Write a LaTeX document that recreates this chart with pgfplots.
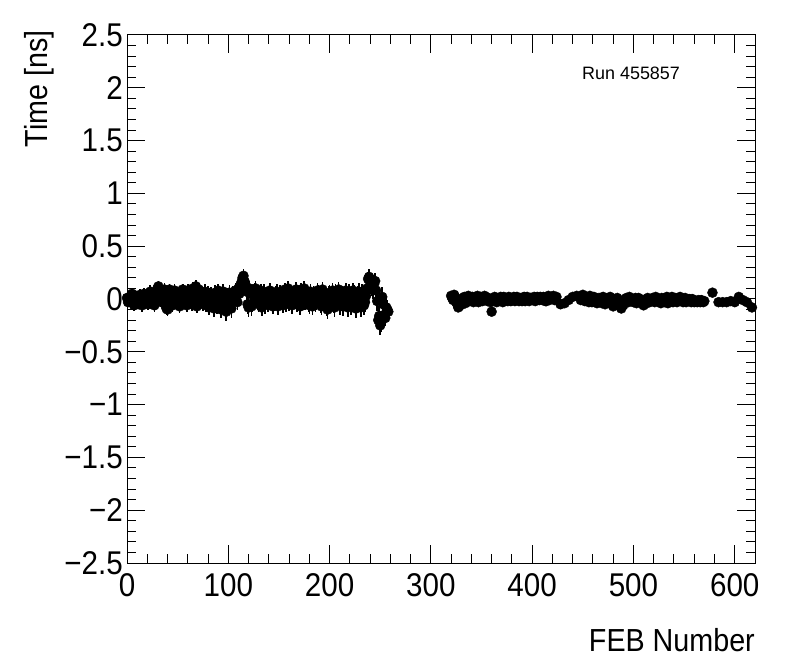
\documentclass[border=0pt]{standalone}
\usepackage{fontspec}
\setmainfont{Liberation Sans}
\newfontfamily\rootfont{Liberation Sans}[FakeStretch=0.9]
\usepackage{pgfplots}
\usepackage{pgfplotstable}
\pgfplotsset{compat=1.18}
\pgfplotstableread{
x y e
0 0.01 0.04
2 -0.02 0.05
4 0.03 0.04
6 -0.04 0.05
8 0.00 0.04
10 0.02 0.05
12 -0.05 0.04
14 0.01 0.05
16 -0.03 0.06
18 0.03 0.05
20 -0.02 0.05
22 0.04 0.06
24 -0.04 0.05
26 0.02 0.05
28 0.06 0.06
30 0.10 0.05
32 0.05 0.06
34 -0.03 0.05
36 0.07 0.05
38 -0.06 0.06
40 -0.10 0.06
42 0.09 0.05
44 0.02 0.06
46 -0.04 0.05
48 0.05 0.06
50 0.00 0.05
52 -0.07 0.06
54 0.03 0.05
56 0.06 0.06
58 -0.02 0.05
60 0.08 0.06
62 0.02 0.05
64 -0.05 0.06
66 0.04 0.05
68 0.12 0.06
70 0.07 0.05
72 -0.03 0.06
74 0.05 0.05
76 0.00 0.07
78 -0.06 0.06
80 0.06 0.06
82 0.03 0.07
84 -0.04 0.06
86 -0.09 0.08
88 0.02 0.07
90 0.08 0.06
92 -0.02 0.07
94 0.05 0.06
96 -0.07 0.08
98 -0.12 0.09
100 0.03 0.07
102 -0.04 0.08
104 0.06 0.06
106 -0.02 0.07
108 0.04 0.06
110 0.10 0.07
112 0.13 0.06
114 0.20 0.06
116 0.17 0.07
118 0.07 0.08
120 -0.08 0.09
122 0.05 0.07
124 -0.04 0.08
126 0.09 0.06
128 0.02 0.07
130 -0.05 0.07
132 0.08 0.06
134 0.01 0.07
136 -0.06 0.08
138 0.04 0.06
140 -0.02 0.07
142 0.06 0.06
144 -0.07 0.07
146 0.02 0.06
148 0.07 0.07
150 -0.03 0.06
152 0.04 0.07
154 -0.06 0.07
156 0.09 0.06
158 0.03 0.07
160 -0.04 0.07
162 0.05 0.06
164 -0.01 0.07
166 0.07 0.06
168 -0.05 0.07
170 0.02 0.07
172 0.09 0.06
174 0.04 0.07
176 -0.03 0.07
178 0.06 0.06
180 -0.06 0.08
182 0.01 0.07
184 0.05 0.07
186 -0.04 0.08
188 0.08 0.07
190 0.02 0.07
192 -0.07 0.08
194 0.04 0.07
196 -0.02 0.08
198 -0.10 0.09
200 0.06 0.07
202 0.01 0.08
204 -0.05 0.08
206 0.07 0.07
208 0.03 0.08
210 -0.06 0.09
212 0.05 0.07
214 -0.02 0.08
216 0.08 0.07
218 -0.08 0.09
220 0.02 0.08
222 -0.04 0.08
224 0.06 0.07
226 -0.09 0.09
228 0.04 0.08
230 -0.03 0.08
232 0.07 0.07
234 -0.06 0.09
236 0.03 0.08
238 0.19 0.07
240 0.16 0.08
242 0.11 0.08
244 0.14 0.09
246 0.08 0.09
248 -0.20 0.08
250 -0.25 0.09
252 0.02 0.09
254 -0.15 0.08
256 -0.08 0.09
258 -0.12 0.08
1 -0.03 0.05
3 0.02 0.05
5 0.05 0.05
7 -0.06 0.05
9 0.03 0.05
11 -0.02 0.05
13 0.04 0.05
15 -0.06 0.06
17 0.05 0.05
19 0.00 0.06
21 -0.05 0.05
23 0.07 0.06
25 0.01 0.05
27 -0.06 0.06
29 0.03 0.06
31 0.12 0.05
33 -0.02 0.06
35 0.04 0.05
37 0.09 0.06
39 -0.09 0.06
41 0.01 0.06
43 0.06 0.05
45 -0.06 0.06
47 0.08 0.06
49 -0.03 0.05
51 0.04 0.06
53 -0.05 0.06
55 0.09 0.05
57 0.01 0.06
59 -0.06 0.06
61 0.05 0.06
63 -0.02 0.05
65 0.10 0.06
67 0.03 0.06
69 -0.07 0.06
71 0.09 0.06
73 0.02 0.05
75 -0.05 0.06
77 0.07 0.07
79 0.01 0.06
81 -0.08 0.07
83 0.05 0.06
85 -0.01 0.07
87 0.06 0.07
89 -0.06 0.08
91 0.03 0.07
93 -0.10 0.08
95 0.07 0.07
97 0.01 0.08
99 -0.05 0.08
101 0.06 0.07
103 -0.09 0.09
105 0.02 0.07
107 0.08 0.07
109 -0.03 0.07
111 0.05 0.07
113 0.16 0.07
115 0.22 0.06
117 0.12 0.07
119 -0.05 0.09
121 0.10 0.07
123 -0.07 0.09
125 0.03 0.07
127 0.10 0.07
129 -0.03 0.07
131 0.05 0.07
133 -0.08 0.08
135 0.07 0.07
137 0.00 0.07
139 -0.05 0.07
141 0.08 0.07
143 0.02 0.07
145 -0.04 0.07
147 0.05 0.07
149 -0.07 0.08
151 0.06 0.07
153 0.00 0.07
155 0.03 0.07
157 -0.05 0.07
159 0.10 0.07
161 0.01 0.07
163 -0.06 0.08
165 0.04 0.07
167 0.09 0.07
169 -0.02 0.07
171 -0.07 0.08
173 0.05 0.07
175 0.10 0.07
177 0.00 0.07
179 -0.04 0.08
181 0.07 0.07
183 -0.07 0.08
185 0.03 0.07
187 -0.02 0.08
189 0.06 0.07
191 -0.05 0.08
193 0.09 0.07
195 0.00 0.08
197 -0.07 0.09
199 0.04 0.08
201 -0.03 0.08
203 0.08 0.07
205 -0.08 0.09
207 0.02 0.08
209 0.09 0.07
211 -0.02 0.08
213 -0.07 0.09
215 0.04 0.08
217 0.00 0.08
219 0.06 0.08
221 -0.06 0.09
223 0.08 0.07
225 0.00 0.08
227 -0.04 0.09
229 0.07 0.08
231 -0.08 0.09
233 0.02 0.08
235 -0.03 0.09
237 0.10 0.08
239 0.21 0.07
241 0.13 0.08
243 0.09 0.09
245 0.17 0.08
247 -0.02 0.09
249 -0.16 0.09
251 -0.22 0.09
253 -0.05 0.09
255 -0.18 0.08
257 -0.10 0.09
}\firstpart
\pgfplotstableread{
x y e
320 0.03 0.01
322 -0.01 0.01
324 0.02 0.01
326 -0.05 0.01
328 -0.07 0.01
330 -0.03 0.01
332 0.01 0.01
334 -0.04 0.01
336 0.02 0.01
338 -0.02 0.01
340 0.01 0.01
342 -0.03 0.01
344 0.00 0.01
346 0.03 0.01
348 -0.02 0.01
350 0.01 0.01
352 -0.01 0.01
354 0.02 0.01
356 -0.02 0.01
358 0.00 0.01
360 -0.12 0.01
362 -0.01 0.01
364 0.01 0.01
366 -0.02 0.01
368 0.01 0.01
370 -0.01 0.01
372 0.02 0.01
374 0.00 0.01
376 -0.02 0.01
378 0.01 0.01
380 -0.01 0.01
382 0.02 0.01
384 0.00 0.01
386 -0.01 0.01
388 0.01 0.01
390 -0.02 0.01
392 0.02 0.01
394 0.00 0.01
396 -0.01 0.01
398 0.01 0.01
400 -0.01 0.01
402 0.02 0.01
404 -0.01 0.01
406 0.00 0.01
408 0.02 0.01
410 -0.01 0.01
412 0.01 0.01
414 -0.02 0.01
416 0.03 0.01
418 0.00 0.01
420 0.01 0.01
422 -0.01 0.01
424 0.02 0.01
428 -0.05 0.01
432 -0.04 0.01
436 -0.01 0.01
440 0.02 0.01
444 0.03 0.01
448 -0.01 0.01
450 0.04 0.01
452 -0.02 0.01
454 0.01 0.01
456 -0.03 0.01
458 0.02 0.01
460 -0.01 0.01
462 0.00 0.01
464 -0.04 0.01
466 0.01 0.01
468 -0.02 0.01
470 0.02 0.01
472 -0.05 0.01
474 -0.01 0.01
476 0.00 0.01
478 -0.04 0.01
480 -0.07 0.01
482 -0.02 0.01
484 0.01 0.01
486 -0.03 0.01
488 -0.09 0.01
490 -0.06 0.01
492 0.00 0.01
494 -0.02 0.01
496 0.02 0.01
498 -0.01 0.01
500 -0.03 0.01
502 0.01 0.01
504 -0.02 0.01
506 0.00 0.01
508 -0.04 0.01
510 -0.06 0.01
512 -0.02 0.01
514 0.01 0.01
516 -0.03 0.01
518 0.00 0.01
520 -0.02 0.01
522 0.02 0.01
524 -0.01 0.01
526 -0.03 0.01
528 0.01 0.01
530 -0.02 0.01
532 0.00 0.01
534 -0.04 0.01
536 -0.01 0.01
538 0.02 0.01
540 -0.02 0.01
542 0.00 0.01
544 -0.01 0.01
546 0.02 0.01
548 -0.02 0.01
550 0.00 0.01
552 -0.03 0.01
554 -0.01 0.01
556 -0.02 0.01
558 0.00 0.01
560 -0.03 0.01
562 -0.02 0.01
564 -0.01 0.01
566 -0.03 0.01
568 -0.02 0.01
570 -0.02 0.01
578 0.06 0.01
584 -0.03 0.01
588 -0.03 0.01
592 -0.03 0.01
596 -0.02 0.01
600 -0.03 0.01
604 0.02 0.01
608 -0.01 0.01
612 -0.03 0.01
617 -0.08 0.01
321 0.01 0.01
323 0.04 0.01
325 -0.03 0.01
327 -0.08 0.01
329 -0.01 0.01
331 -0.05 0.01
333 0.02 0.01
335 -0.02 0.01
337 0.03 0.01
339 -0.01 0.01
341 0.02 0.01
343 -0.02 0.01
345 0.01 0.01
347 -0.03 0.01
349 0.02 0.01
351 -0.02 0.01
353 0.03 0.01
355 -0.01 0.01
357 0.01 0.01
359 -0.03 0.01
361 0.00 0.01
363 0.02 0.01
365 -0.03 0.01
367 0.00 0.01
369 0.02 0.01
371 -0.03 0.01
373 0.01 0.01
375 -0.01 0.01
377 0.02 0.01
379 -0.02 0.01
381 0.01 0.01
383 -0.02 0.01
385 0.02 0.01
387 -0.02 0.01
389 0.00 0.01
391 0.01 0.01
393 -0.02 0.01
395 0.02 0.01
397 -0.02 0.01
399 0.01 0.01
401 0.00 0.01
403 -0.02 0.01
405 0.02 0.01
407 -0.01 0.01
409 0.00 0.01
411 0.02 0.01
413 -0.02 0.01
415 0.01 0.01
417 -0.01 0.01
419 0.02 0.01
421 0.03 0.01
423 0.00 0.01
449 0.01 0.01
451 -0.01 0.01
453 0.02 0.01
455 -0.02 0.01
457 0.03 0.01
459 -0.03 0.01
461 0.02 0.01
463 -0.02 0.01
465 -0.03 0.01
467 0.00 0.01
469 -0.04 0.01
471 0.01 0.01
473 -0.02 0.01
475 -0.03 0.01
477 0.02 0.01
479 -0.05 0.01
481 -0.03 0.01
483 -0.01 0.01
485 -0.04 0.01
487 -0.02 0.01
489 -0.05 0.01
491 -0.03 0.01
493 0.01 0.01
495 -0.03 0.01
497 0.00 0.01
499 -0.02 0.01
501 0.00 0.01
503 -0.04 0.01
505 0.01 0.01
507 -0.02 0.01
509 -0.03 0.01
511 -0.01 0.01
513 -0.04 0.01
515 0.00 0.01
517 -0.02 0.01
519 0.01 0.01
521 -0.03 0.01
523 0.00 0.01
525 -0.02 0.01
527 -0.04 0.01
529 0.00 0.01
531 -0.03 0.01
533 0.02 0.01
535 -0.02 0.01
537 0.00 0.01
539 -0.03 0.01
541 0.01 0.01
543 -0.03 0.01
545 0.00 0.01
547 -0.01 0.01
549 -0.03 0.01
551 0.01 0.01
553 -0.02 0.01
555 0.00 0.01
557 -0.03 0.01
559 -0.01 0.01
561 -0.02 0.01
563 -0.03 0.01
565 -0.02 0.01
567 -0.01 0.01
569 -0.03 0.01
}\secondpart
\begin{document}
\begin{tikzpicture}
\useasboundingbox (-127bp,-109bp) rectangle (669bp,563bp);
\begin{axis}[
  at={(0,0)}, anchor=south west,
  scale only axis, width=628bp, height=528bp,
  xmin=0, xmax=620, ymin=-2.5, ymax=2.5,
  xtick={0,100,200,300,400,500,600},
  ytick={-2.5,-2,-1.5,-1,-0.5,0,0.5,1,1.5,2,2.5},
  yticklabels={−2.5,−2,−1.5,−1,−0.5,0,0.5,1,1.5,2,2.5},
  xticklabels={0,100,200,300,400,500,600},
  minor x tick num=4, minor y tick num=4,
  xtick pos=both, ytick pos=both,
  xticklabel pos=lower, yticklabel pos=left,
  tick align=inside,
  major tick length=18bp, minor tick length=9bp,
  tick style={black, line width=1bp},
  axis line style={black, line width=1bp},
  every tick label/.append style={font=\rootfont\fontsize{33}{38}\selectfont, inner sep=0pt},
  xticklabel style={yshift=-10bp},
  yticklabel style={xshift=-4bp},
  clip=false,
]
\addplot[black, only marks, mark=*, mark size=5bp, mark options={solid, fill=black, line width=0.4bp},
  error bars/.cd, y dir=both, y explicit, error mark=none,
  error bar style={line width=1.6bp, black}]
  table[x=x, y=y, y error=e] {\firstpart};
\addplot[black, only marks, mark=*, mark size=5bp, mark options={solid, fill=black, line width=0.4bp},
  error bars/.cd, y dir=both, y explicit, error mark=none,
  error bar style={line width=1.6bp, black}]
  table[x=x, y=y, y error=e] {\secondpart};
\end{axis}
\node[rotate=90, anchor=base east, inner sep=0pt, font=\rootfont\fontsize{32}{38}\selectfont] at (-79bp,533bp) {Time [ns]};
\node[anchor=base east, inner sep=0pt, font=\rootfont\fontsize{32}{38}\selectfont] at (628bp,-88bp) {FEB Number};
\node[anchor=base west, inner sep=0pt, font=\fontsize{18}{22}\selectfont] at (455bp,483bp) {Run 455857};
\end{tikzpicture}
\end{document}
